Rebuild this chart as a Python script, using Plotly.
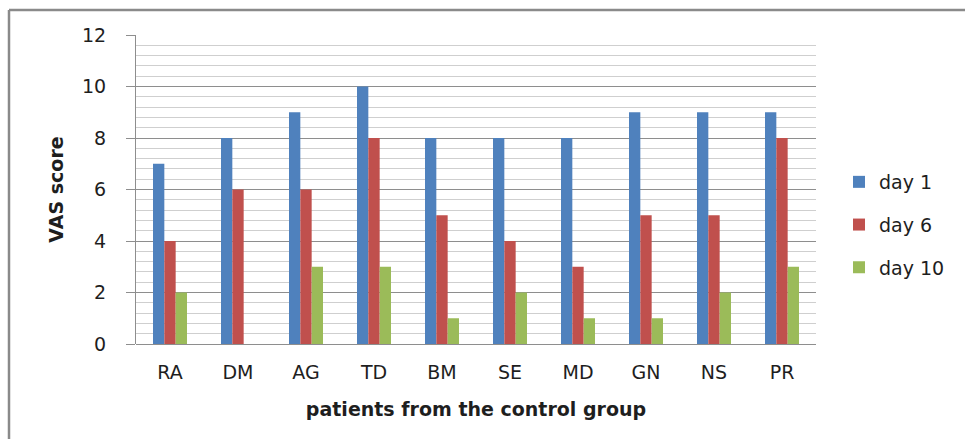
import plotly.graph_objects as go

# VAS pain scores for the control group patients
patients = ["RA", "DM", "AG", "TD", "BM", "SE", "MD", "GN", "NS", "PR"]
day1 = [7, 8, 9, 10, 8, 8, 8, 9, 9, 9]
day6 = [4, 6, 6, 8, 5, 4, 3, 5, 5, 8]
day10 = [2, 0, 3, 3, 1, 2, 1, 1, 2, 3]

series_names = ["day 1", "day 6", "day 10"]
series_colors = ["#4F81BD", "#C0504D", "#9BBB59"]
y_ticks = [0, 2, 4, 6, 8, 10, 12]

FONT = "DejaVu Sans"
TEXT = "#1e1e1e"
FS = 19

W, H = 965, 439
ML, MR, MT, MB = 136, 149, 35, 95
PW, PH = W - ML - MR, H - MT - MB


def px_x(p):
    return (p - ML) / PW


def px_y(p):
    return (H - MB - p) / PH


fig = go.Figure()
for name, vals, col in zip(series_names, [day1, day6, day10], series_colors):
    fig.add_trace(go.Bar(
        x=patients, y=vals, name=name, legendgroup=name,
        marker=dict(color=col, line=dict(width=0)),
    ))

fig.update_layout(
    width=W, height=H,
    margin=dict(l=ML, r=MR, t=MT, b=MB, pad=0),
    paper_bgcolor="white", plot_bgcolor="white",
    barmode="group", bargap=0.5, bargroupgap=0,
    font=dict(family=FONT, color=TEXT, size=FS),
    showlegend=True,
    legend=dict(
        x=px_x(839), xanchor="left", y=px_y(225), yanchor="middle",
        font=dict(family=FONT, size=FS, color=TEXT),
        tracegroupgap=15, itemsizing="constant",
        bgcolor="rgba(0,0,0,0)",
    ),
    xaxis=dict(
        showgrid=False, zeroline=False, showline=False,
        ticks="", ticklabelstandoff=15,
        tickfont=dict(family=FONT, size=FS, color=TEXT),
        title=dict(text="<b>patients from the control group</b>",
                   font=dict(family=FONT, size=FS, color=TEXT), standoff=20),
        fixedrange=True,
    ),
    yaxis=dict(
        range=[0, 12], tickvals=y_ticks,
        showgrid=True, gridcolor="#8e8e8e", gridwidth=1,
        minor=dict(dtick=0.4, tick0=0, showgrid=True, gridcolor="#cfcfcf", gridwidth=1),
        showline=True, linecolor="#8e8e8e", linewidth=1,
        zeroline=True, zerolinecolor="#8e8e8e", zerolinewidth=1,
        ticks="outside", ticklen=9, tickcolor="#8e8e8e", tickwidth=1,
        ticklabelstandoff=16,
        tickfont=dict(family=FONT, size=FS, color=TEXT),
        title=dict(text="<b>VAS score</b>",
                   font=dict(family=FONT, size=FS, color=TEXT), standoff=13),
        fixedrange=True,
    ),
    shapes=[
        # chart frame: top and left edges
        dict(type="line", xref="paper", yref="paper",
             x0=px_x(9), x1=px_x(966), y0=px_y(10), y1=px_y(10),
             line=dict(color="#8a8a8a", width=2.5)),
        dict(type="line", xref="paper", yref="paper",
             x0=px_x(9), x1=px_x(9), y0=px_y(10), y1=px_y(440),
             line=dict(color="#8a8a8a", width=2.5)),
    ],
)

fig.write_html("out.html")
